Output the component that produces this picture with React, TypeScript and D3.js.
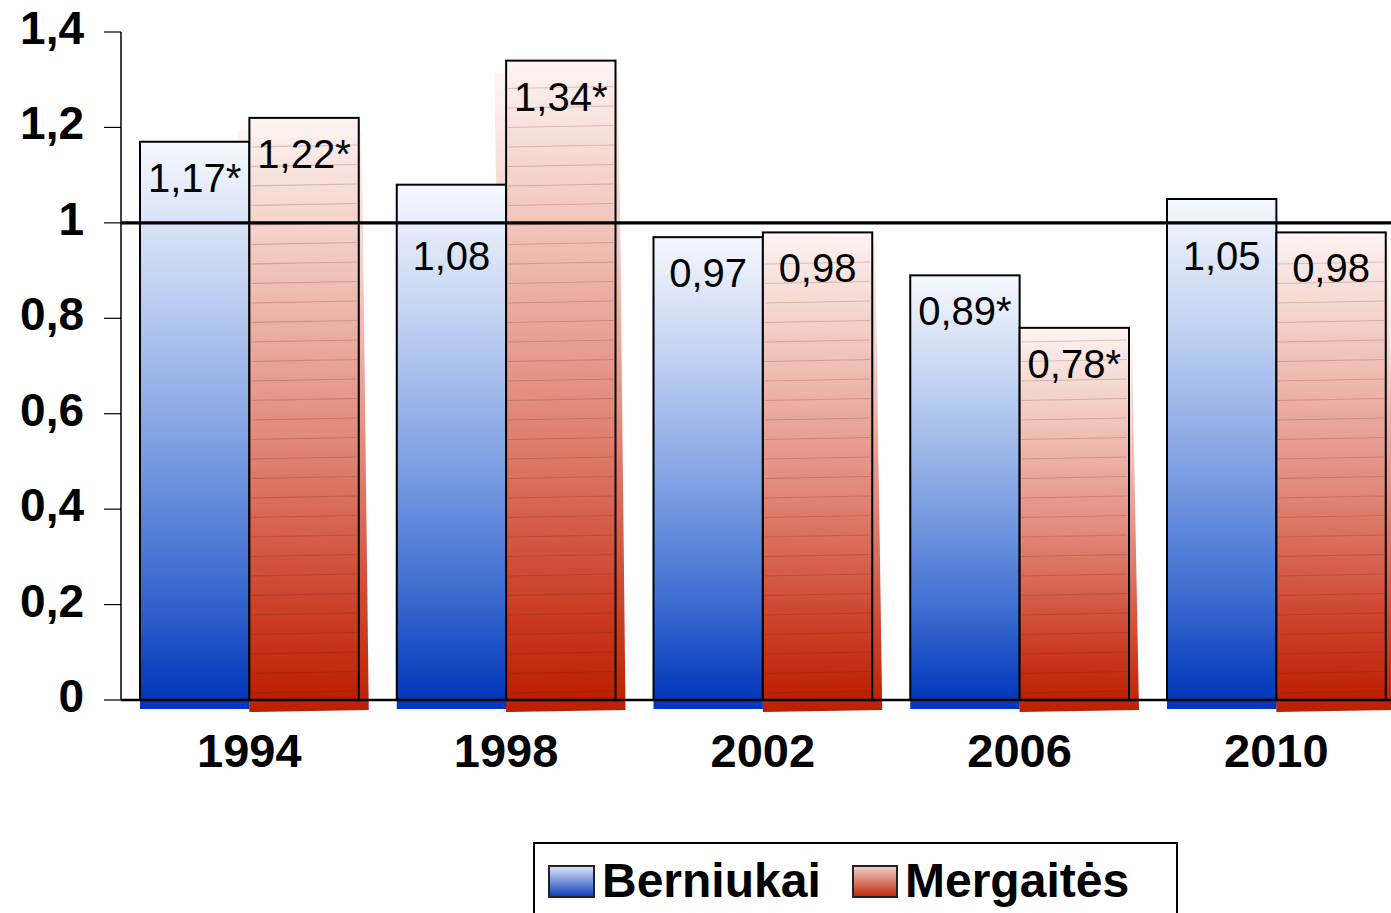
import React from "react";
import * as d3 from "d3";

const years = ["1994", "1998", "2002", "2006", "2010"];
const seriesNames = ["Berniukai", "Mergaitės"];
const boys = [1.17, 1.08, 0.97, 0.89, 1.05];
const girls = [1.22, 1.34, 0.98, 0.78, 0.98];
const boysLabels = ["1,17*", "1,08", "0,97", "0,89*", "1,05"];
const girlsLabels = ["1,22*", "1,34*", "0,98", "0,78*", "0,98"];
const yTicks = [0, 0.2, 0.4, 0.6, 0.8, 1, 1.2, 1.4];
const yTickLabels = ["0", "0,2", "0,4", "0,6", "0,8", "1", "1,2", "1,4"];
const refValue = 1;

const W = 1391;
const H = 913;
const FONT = "'Liberation Sans', Arial, Helvetica, sans-serif";

export default function App() {
  const x0 = d3.scaleBand<string>().domain(years).range([121, 121 + 5 * 256.75]).padding(0);
  const bw = x0.bandwidth();
  const x1 = d3.scaleBand<string>().domain(seriesNames).range([19, bw - 19]).padding(0);
  const y = d3.scaleLinear().domain([0, 1.4]).range([700, 32]);
  const base = y(0);
  const yRef = y(refValue);

  const data = years.map((yr, i) => ({
    yr,
    bars: [
      { s: seriesNames[0], v: boys[i], label: boysLabels[i], grad: "url(#gBlue)", red: false },
      { s: seriesNames[1], v: girls[i], label: girlsLabels[i], grad: "url(#gRed)", red: true },
    ],
  }));

  const labelBaseline = (v: number) => {
    const natural = y(v) + 50;
    const capTop = natural - 29;
    if (natural > yRef - 4 && capTop < yRef + 4) return yRef + 47;
    return natural;
  };

  return (
    <svg
      width={W}
      height={H}
      style={{ position: "absolute", left: 0, top: 0, display: "block", background: "#fff" }}
      fontFamily={FONT}
    >
      <defs>
        <linearGradient id="gBlue" x1="0" y1="0" x2="0" y2="1">
          <stop offset="0" stopColor="#f6f8fe" />
          <stop offset="0.25" stopColor="#c3d3f2" />
          <stop offset="0.55" stopColor="#7c9ee2" />
          <stop offset="0.8" stopColor="#3a6ad0" />
          <stop offset="1" stopColor="#0036ba" />
        </linearGradient>
        <linearGradient id="gRed" x1="0" y1="0" x2="0" y2="1">
          <stop offset="0" stopColor="#fdf4f2" />
          <stop offset="0.25" stopColor="#f1c6bd" />
          <stop offset="0.55" stopColor="#e2897a" />
          <stop offset="0.8" stopColor="#cf4a33" />
          <stop offset="1" stopColor="#bd1f00" />
        </linearGradient>
        <linearGradient id="gRedShadow" x1="0" y1="0" x2="0" y2="1">
          <stop offset="0" stopColor="#fdf6f4" />
          <stop offset="0.25" stopColor="#f3cdc5" />
          <stop offset="0.55" stopColor="#e2897a" />
          <stop offset="0.8" stopColor="#cf4a33" />
          <stop offset="1" stopColor="#bd1f00" />
        </linearGradient>
        <linearGradient id="gBlueLeg" x1="0" y1="0" x2="0" y2="1">
          <stop offset="0" stopColor="#dfe7fa" />
          <stop offset="1" stopColor="#0a3cbc" />
        </linearGradient>
        <linearGradient id="gRedLeg" x1="0" y1="0" x2="0" y2="1">
          <stop offset="0" stopColor="#f3d2cb" />
          <stop offset="1" stopColor="#c0250a" />
        </linearGradient>
      </defs>

      {/* shadows */}
      {data.map((g) => {
        const gx = x0(g.yr)!;
        return (
          <g key={"sh" + g.yr}>
            {g.bars
              .slice()
              .reverse()
              .map((b) => {
                const bx = gx + x1(b.s)!;
                const w = x1.bandwidth();
                const top = y(b.v);
                if (b.red) {
                  const pts = [
                    [bx - 12, top + 12],
                    [bx + w + 3, top + 12],
                    [bx + w + 10, base + 10],
                    [bx, base + 12],
                  ];
                  return (
                    <polygon
                      key={b.s}
                      points={pts.map((p) => p.join(",")).join(" ")}
                      fill="url(#gRedShadow)"
                    />
                  );
                }
                return (
                  <rect key={b.s} x={bx} y={top} width={w} height={base + 9 - top} fill={b.grad} />
                );
              })}
          </g>
        );
      })}

      {/* bars */}
      {data.map((g) => {
        const gx = x0(g.yr)!;
        return (
          <g key={"b" + g.yr}>
            {g.bars.map((b) => {
              const bx = gx + x1(b.s)!;
              const w = x1.bandwidth();
              const top = y(b.v);
              const h = base - top;
              const n = Math.floor(h / 19.5);
              const stripes = b.red
                ? d3.range(1, n + 1).map((k) => base - 8 - (k - 1) * 19.5)
                : [];
              return (
                <g key={b.s}>
                  <rect x={bx} y={top} width={w} height={h} fill={b.grad} />
                  {stripes
                    .filter((sy) => sy > top + 4)
                    .map((sy, k) => (
                      <line
                        key={k}
                        x1={bx + 2}
                        x2={bx + w - 2}
                        y1={sy + 1}
                        y2={sy - 1}
                        stroke="#6a1a10"
                        strokeOpacity={0.22}
                        strokeWidth={1.2}
                      />
                    ))}
                  <rect
                    x={bx}
                    y={top}
                    width={w}
                    height={h}
                    fill="none"
                    stroke="#000"
                    strokeWidth={2}
                  />
                </g>
              );
            })}
          </g>
        );
      })}

      {/* axis */}
      <line x1={121} x2={121} y1={32} y2={base} stroke="#000" strokeWidth={1.5} />
      {yTicks.map((t, i) => (
        <g key={"t" + t}>
          <line x1={104} x2={121} y1={y(t)} y2={y(t)} stroke="#000" strokeWidth={1.2} />
          <text
            x={84}
            y={y(t) + 12}
            textAnchor="end"
            fontSize={46}
            fontWeight="bold"
            fill="#000"
          >
            {yTickLabels[i]}
          </text>
        </g>
      ))}
      <line x1={121} x2={W} y1={base} y2={base} stroke="#000" strokeWidth={2.5} />
      <line x1={121} x2={W} y1={yRef} y2={yRef} stroke="#000" strokeWidth={3.2} />

      {/* value labels */}
      {data.map((g) => {
        const gx = x0(g.yr)!;
        return g.bars.map((b) => {
          const bx = gx + x1(b.s)!;
          const w = x1.bandwidth();
          return (
            <text
              key={"l" + g.yr + b.s}
              x={bx + w / 2}
              y={labelBaseline(b.v)}
              textAnchor="middle"
              fontSize={40}
              fill="#000"
            >
              {b.label}
            </text>
          );
        });
      })}

      {/* year labels */}
      {years.map((yr) => (
        <text
          key={"y" + yr}
          x={x0(yr)! + bw / 2}
          y={767}
          textAnchor="middle"
          fontSize={47}
          fontWeight="bold"
          fill="#000"
        >
          {yr}
        </text>
      ))}

      {/* legend */}
      <rect x={534} y={843} width={643} height={90} fill="#fff" stroke="#000" strokeWidth={2} />
      <rect x={549} y={866} width={45} height={31} fill="url(#gBlueLeg)" stroke="#222" strokeWidth={2} />
      <text x={602} y={897} fontSize={48} fontWeight="bold" fill="#000">
        {seriesNames[0]}
      </text>
      <rect x={853} y={866} width={44} height={31} fill="url(#gRedLeg)" stroke="#222" strokeWidth={2} />
      <text x={905} y={897} fontSize={48} fontWeight="bold" fill="#000">
        {seriesNames[1]}
      </text>
    </svg>
  );
}
